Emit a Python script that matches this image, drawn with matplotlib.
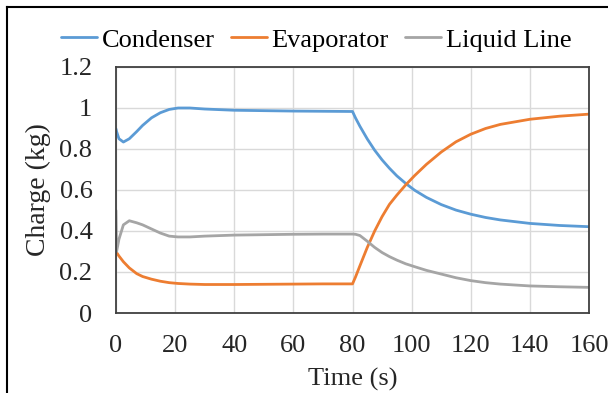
import matplotlib.pyplot as plt
from matplotlib.lines import Line2D
from matplotlib.ticker import FuncFormatter

# values
time_s = [0, 0.2, 1, 2.5, 4.5, 7, 9, 12, 15, 18, 21, 25, 30, 40, 50, 60, 70, 80,
          81, 82.5, 85, 87.5, 90, 92.5, 95, 98, 101, 105, 110, 115, 120, 125, 130,
          140, 150, 160]
condenser = [0.898, 0.885, 0.85, 0.834, 0.85, 0.885, 0.915, 0.952, 0.977, 0.993,
             1.0, 1.0, 0.995, 0.989, 0.987, 0.985, 0.984, 0.983,
             0.952, 0.911, 0.849, 0.794, 0.747, 0.706, 0.669, 0.632, 0.599, 0.564,
             0.529, 0.502, 0.482, 0.466, 0.454, 0.437, 0.427, 0.421]
evaporator = [0.30, 0.295, 0.278, 0.25, 0.22, 0.192, 0.178, 0.165, 0.155, 0.148,
              0.144, 0.141, 0.139, 0.139, 0.14, 0.141, 0.142, 0.142,
              0.175, 0.23, 0.32, 0.40, 0.47, 0.53, 0.575, 0.625, 0.67, 0.725,
              0.785, 0.835, 0.872, 0.900, 0.920, 0.945, 0.960, 0.970]
liquid_line = [0.50, 0.30, 0.36, 0.43, 0.45, 0.44, 0.43, 0.41, 0.39, 0.375,
               0.371, 0.371, 0.375, 0.38, 0.382, 0.384, 0.385, 0.385,
               0.384, 0.378, 0.35, 0.32, 0.295, 0.275, 0.258, 0.24, 0.226, 0.208,
               0.19, 0.172, 0.158, 0.148, 0.141, 0.132, 0.128, 0.125]

series_names = ['Condenser', 'Evaporator', 'Liquid Line']
colors = ['#5B9BD5', '#ED7D31', '#A5A5A5']
x_ticks = [0, 20, 40, 60, 80, 100, 120, 140, 160]
y_ticks = [0, 0.2, 0.4, 0.6, 0.8, 1.0, 1.2]

plt.rcParams['font.family'] = ['Liberation Serif', 'DejaVu Serif']

W, H = 608, 393
fig = plt.figure(figsize=(W / 100, H / 100), dpi=100)
ax = fig.add_axes([116 / W, 1 - 313 / H, 473 / W, 246 / H])

for vals, name, c in zip([condenser, evaporator, liquid_line], series_names, colors):
    ax.plot(time_s, vals, color=c, lw=2.0, label=name, solid_capstyle='round')

ax.set_xlim(0, 160)
ax.set_ylim(0, 1.2)
ax.set_xticks(x_ticks)
ax.set_yticks(y_ticks)
ax.yaxis.set_major_formatter(FuncFormatter(lambda v, p: '{:g}'.format(round(v, 1))))
ax.grid(True, color='#D9D9D9', lw=1.0)
ax.set_axisbelow(True)
ax.tick_params(length=0, labelsize=19, colors='#262626')
ax.tick_params(axis='y', pad=17)
ax.tick_params(axis='x', pad=16)
for s in ax.spines.values():
    s.set_color('#404040')
    s.set_linewidth(1.3)

ax.set_xlabel('Time (s)', fontsize=19, color='#262626', labelpad=8)
ax.set_ylabel('Charge (kg)', fontsize=20, color='#262626', labelpad=6)

fig.legend(loc='center left', bbox_to_anchor=(61 / W, 1 - 40 / H), ncol=3,
           frameon=False, fontsize=19, borderpad=0, borderaxespad=0,
           handlelength=1.36, handletextpad=0.19, columnspacing=0.6)

# outer chart border (cropped on right and bottom)
fig.add_artist(Line2D([7 / W, 1], [1 - 7 / H, 1 - 7 / H], color='black', lw=1.5,
                      transform=fig.transFigure))
fig.add_artist(Line2D([7 / W, 7 / W], [0, 1 - 7 / H], color='black', lw=1.5,
                      transform=fig.transFigure))

fig.savefig('out.png', dpi=100)
